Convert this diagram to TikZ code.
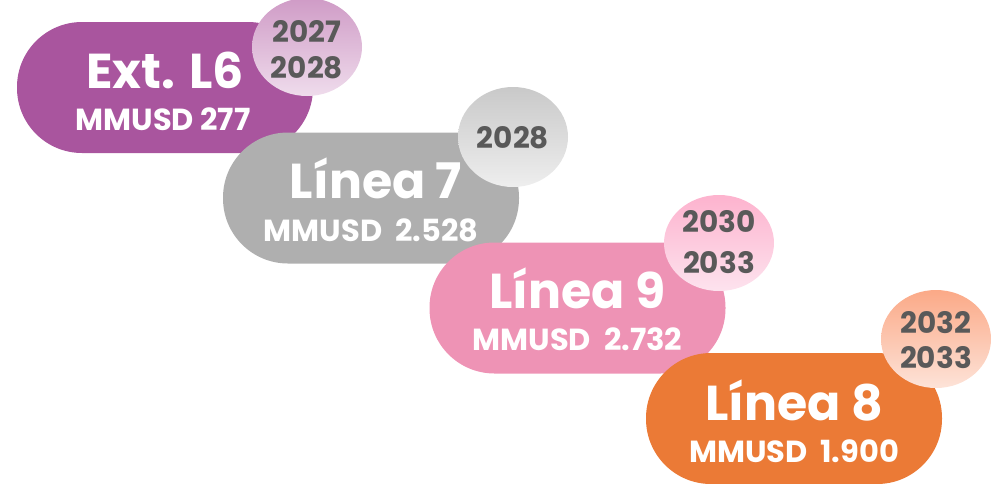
\documentclass[tikz,border=0pt]{standalone}
\usepackage{fontspec}
\setmainfont{Poppins}
\usetikzlibrary{shapes.geometric,calc}
\definecolor{cpurple}{HTML}{A9559E}
\definecolor{cgray}{HTML}{AFAFAF}
\definecolor{cpink}{HTML}{EE93B5}
\definecolor{corange}{HTML}{EB7A36}
\definecolor{cyear}{HTML}{595959}
\definecolor{b1top}{HTML}{CF9BC6}
\definecolor{b1bot}{HTML}{EFDCEC}
\definecolor{b2top}{HTML}{C9C9C9}
\definecolor{b2bot}{HTML}{EEEEEE}
\definecolor{b3top}{HTML}{FDB3CE}
\definecolor{b3bot}{HTML}{FDE3EE}
\definecolor{b4top}{HTML}{FBA987}
\definecolor{b4bot}{HTML}{FDE3D8}
\begin{document}
\begin{tikzpicture}[x=1pt,y=-1pt,
  pill/.style={rectangle, rounded corners=65pt, minimum width=296pt, minimum height=131pt, inner sep=0pt, draw=none},
  bubble/.style={ellipse, minimum width=110pt, minimum height=98pt, inner sep=0pt, draw=none},
  title/.style={anchor=base, text=white, inner sep=0pt, font=\fontsize{49}{49}\selectfont\bfseries},
  sub/.style={anchor=base, text=white, inner sep=0pt, font=\fontsize{30.5}{30.5}\selectfont\bfseries},
  year/.style={anchor=base, text=cyear, inner sep=0pt, font=\fontsize{29.5}{29.5}\selectfont\bfseries}]
\path[use as bounding box] (0,0) rectangle (999,483);

% Ext. L6
\node[pill, fill=cpurple] (p1) at (165,87.5) {};
\node[title] (t1) at ($(p1.center)+(0,0.5)$) {Ext. L6};
\node[sub] (s1) at ($(p1.center)+(-2,42.5)$) {MMUSD 277};
\node[bubble, top color=b1top, bottom color=b1bot] (c1) at (307,47) {};
\node[year] (y1a) at ($(c1.center)+(0,-5)$) {2027};
\node[year] (y1b) at ($(c1.center)+(0,31)$) {2028};

% Linea 7
\node[pill, fill=cgray] (p2) at (371,198) {};
\node[title] (t2) at ($(p2.center)+(5,0)$) {Línea 7};
\node[sub] (s2) at ($(p2.center)+(0,43)$) {MMUSD\ \ 2.528};
\node[bubble, top color=b2top, bottom color=b2bot, minimum height=100pt] (c2) at (513,137) {};
\node[year] (y2) at ($(c2.center)+(0,11)$) {2028};

% Linea 9
\node[pill, fill=cpink] (p3) at (577.5,308) {};
\node[title] (t3) at ($(p3.center)+(0,0)$) {Línea 9};
\node[sub] (s3) at ($(p3.center)+(0,42)$) {MMUSD\ \ 2.732};
\node[bubble, top color=b3top, bottom color=b3bot, minimum height=96pt] (c3) at (719,243) {};
\node[year] (y3a) at ($(c3.center)+(0,-11)$) {2030};
\node[year] (y3b) at ($(c3.center)+(0,30)$) {2033};

% Linea 8
\node[pill, fill=corange] (p4) at (794,418.5) {};
\node[title] (t4) at ($(p4.center)+(0,1.5)$) {Línea 8};
\node[sub] (s4) at ($(p4.center)+(0,43.5)$) {MMUSD\ \ 1.900};
\node[bubble, top color=b4top, bottom color=b4bot] (c4) at (936,339) {};
\node[year] (y4a) at ($(c4.center)+(0,-6)$) {2032};
\node[year] (y4b) at ($(c4.center)+(0,29)$) {2033};
\end{tikzpicture}
\end{document}
